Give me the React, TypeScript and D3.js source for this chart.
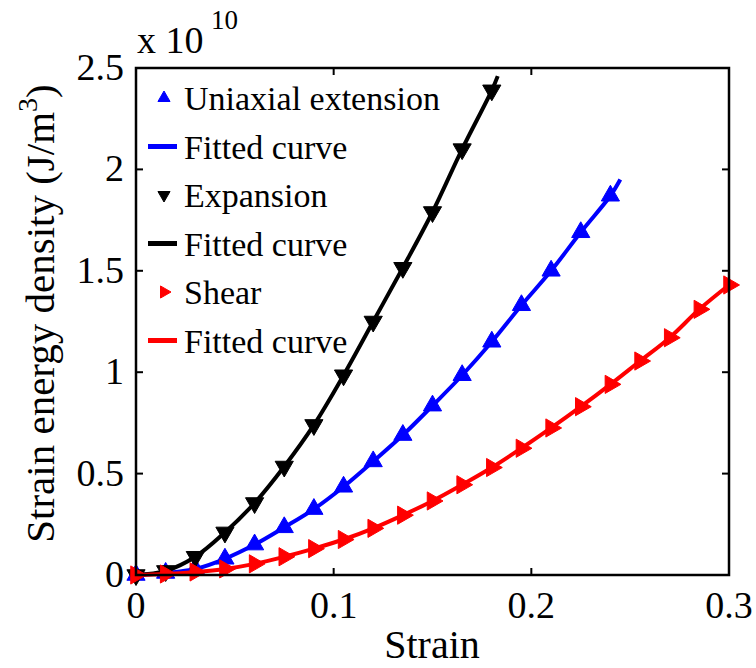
import React from "react";
import * as d3 from "d3";

const strainUni = [0, 0.015, 0.03, 0.045, 0.06, 0.075, 0.09, 0.105, 0.12, 0.135, 0.15, 0.165, 0.18, 0.195, 0.21, 0.225, 0.24];
const energyUni = [0, 0.01, 0.03, 0.08, 0.15, 0.235, 0.325, 0.435, 0.56, 0.69, 0.835, 0.985, 1.15, 1.33, 1.5, 1.69, 1.87];
const fitUniStrain = [0, 0.015, 0.03, 0.045, 0.06, 0.075, 0.09, 0.105, 0.12, 0.135, 0.15, 0.165, 0.18, 0.195, 0.21, 0.225, 0.24, 0.245];
const fitUniEnergy = [0, 0.01, 0.03, 0.08, 0.15, 0.235, 0.325, 0.435, 0.56, 0.69, 0.835, 0.985, 1.15, 1.33, 1.5, 1.69, 1.87, 1.95];

const strainExp = [0, 0.015, 0.03, 0.045, 0.06, 0.075, 0.09, 0.105, 0.12, 0.135, 0.15, 0.165, 0.18];
const energyExp = [0, 0.02, 0.09, 0.21, 0.355, 0.535, 0.74, 0.985, 1.25, 1.515, 1.79, 2.1, 2.39];
const fitExpStrain = [0, 0.015, 0.03, 0.045, 0.06, 0.075, 0.09, 0.105, 0.12, 0.135, 0.15, 0.165, 0.18, 0.183];
const fitExpEnergy = [0, 0.02, 0.09, 0.21, 0.355, 0.535, 0.74, 0.985, 1.25, 1.515, 1.79, 2.1, 2.39, 2.46];

const strainShear = [0, 0.015, 0.03, 0.045, 0.06, 0.075, 0.09, 0.105, 0.12, 0.135, 0.15, 0.165, 0.18, 0.195, 0.21, 0.225, 0.24, 0.255, 0.27, 0.285, 0.3];
const energyShear = [0, 0.005, 0.015, 0.03, 0.055, 0.09, 0.13, 0.175, 0.23, 0.295, 0.365, 0.445, 0.53, 0.625, 0.725, 0.83, 0.94, 1.055, 1.17, 1.31, 1.43];

const xTicks = [0, 0.1, 0.2, 0.3];
const xTickLabels = ["0", "0.1", "0.2", "0.3"];
const yTicks = [0, 0.5, 1, 1.5, 2, 2.5];
const yTickLabels = ["0", "0.5", "1", "1.5", "2", "2.5"];

const legendLabels = ["Uniaxial extension", "Fitted curve", "Expansion", "Fitted curve", "Shear", "Fitted curve"];

const FONT = '"Liberation Serif", Tinos, "Times New Roman", serif';

function tri(cx: number, cy: number, r: number, dir: "up" | "down" | "right") {
  const pts: [number, number][] = [];
  const base = dir === "up" ? -90 : dir === "down" ? 90 : 0;
  for (let i = 0; i < 3; i++) {
    const a = ((base + i * 120) * Math.PI) / 180;
    pts.push([cx + r * Math.cos(a), cy + r * Math.sin(a)]);
  }
  return "M" + pts.map((p) => p.join(",")).join("L") + "Z";
}

export default function App() {
  const left = 136, right = 729, top = 68, bottom = 575;
  const x = d3.scaleLinear().domain([0, 0.3]).range([left, right]);
  const y = d3.scaleLinear().domain([0, 2.5]).range([bottom, top]);
  const line = d3
    .line<[number, number]>()
    .x((d) => x(d[0]))
    .y((d) => y(d[1]))
    .curve(d3.curveCatmullRom);

  const zip = (a: number[], b: number[]) => a.map((v, i) => [v, b[i]] as [number, number]);

  const series = [
    { pts: zip(strainUni, energyUni), fit: zip(fitUniStrain, fitUniEnergy), color: "#0000ff", dir: "up" as const },
    { pts: zip(strainExp, energyExp), fit: zip(fitExpStrain, fitExpEnergy), color: "#000000", dir: "down" as const },
    { pts: zip(strainShear, energyShear), fit: zip(strainShear, energyShear), color: "#ff0000", dir: "right" as const },
  ];

  const tickLen = 7;
  const legendY0 = 98;
  const legendStep = 48.5;
  const txt = { fontFamily: FONT } as React.CSSProperties;

  return (
    <svg width={756} height={668} style={{ display: "block", position: "absolute", left: 0, top: 0, background: "#fff", fontFamily: FONT }}>
      <rect x={0} y={0} width={756} height={668} fill="#fff" />
      {series.map((s, i) => (
        <g key={i}>
          {s.pts.map((p, j) => (
            <path key={j} d={tri(x(p[0]), y(p[1]), 10.5, s.dir)} fill={s.color} stroke={s.color} strokeWidth={1} />
          ))}
          <path d={line(s.fit) || ""} fill="none" stroke={s.color} strokeWidth={4} strokeLinejoin="round" />
        </g>
      ))}

      <rect x={left} y={top} width={right - left} height={bottom - top} fill="none" stroke="#000" strokeWidth={2.5} />
      {xTicks.map((t, i) => (
        <g key={"xt" + i}>
          <line x1={x(t)} x2={x(t)} y1={bottom} y2={bottom - tickLen} stroke="#000" strokeWidth={2} />
          <line x1={x(t)} x2={x(t)} y1={top} y2={top + tickLen} stroke="#000" strokeWidth={2} />
          <text x={x(t)} y={618} textAnchor="middle" style={txt} fontSize={38} fill="#000">
            {xTickLabels[i]}
          </text>
        </g>
      ))}
      {yTicks.map((t, i) => (
        <g key={"yt" + i}>
          <line x1={left} x2={left + tickLen} y1={y(t)} y2={y(t)} stroke="#000" strokeWidth={2} />
          <line x1={right} x2={right - tickLen} y1={y(t)} y2={y(t)} stroke="#000" strokeWidth={2} />
          <text x={124} y={y(t) + 12} textAnchor="end" style={txt} fontSize={38} fill="#000">
            {yTickLabels[i]}
          </text>
        </g>
      ))}

      <text x={137} y={53} style={txt} fontSize={38} fill="#000">
        x 10
      </text>
      <text x={211} y={29} style={txt} fontSize={27} fill="#000">
        10
      </text>

      <text x={432} y={658} textAnchor="middle" style={txt} fontSize={40} fill="#000">
        Strain
      </text>
      <text
        transform={`translate(54, ${(top + bottom) / 2 - 8}) rotate(-90)`}
        textAnchor="middle"
        style={txt}
        fontSize={41}
        fill="#000"
      >
        Strain energy density (J/m
        <tspan dy={-17} fontSize={28}>3</tspan>
        <tspan dy={17}>)</tspan>
      </text>

      {legendLabels.map((lab, i) => {
        const cy = legendY0 + i * legendStep;
        const s = series[Math.floor(i / 2)];
        const isMarker = i % 2 === 0;
        return (
          <g key={"lg" + i}>
            {isMarker ? (
              <path d={tri(164, cy, 7, s.dir)} fill={s.color} stroke={s.color} strokeWidth={1} />
            ) : (
              <line x1={148} x2={177} y1={cy} y2={cy} stroke={s.color} strokeWidth={5} />
            )}
            <text x={184} y={cy + 12} style={txt} fontSize={34} fill="#000">
              {lab}
            </text>
          </g>
        );
      })}
    </svg>
  );
}
